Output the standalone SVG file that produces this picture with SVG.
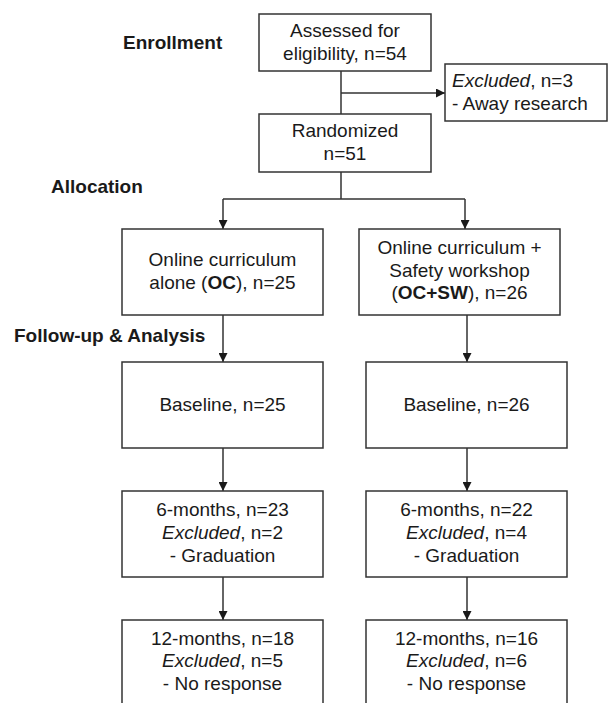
<svg xmlns="http://www.w3.org/2000/svg" width="608" height="703" viewBox="0 0 608 703">
<style>
.box{fill:#fff;stroke:#333;stroke-width:1.5}
.t{font-family:"Liberation Sans",Arial,sans-serif;font-size:19px;fill:#1a1a1a}
.c{text-anchor:middle}
.h{font-family:"Liberation Sans",Arial,sans-serif;font-size:19px;font-weight:bold;fill:#1a1a1a}
.ln{fill:none;stroke:#333;stroke-width:1.5}
</style>
<defs>
<marker id="ah" viewBox="0 0 10 10" refX="10" refY="5" markerWidth="9" markerHeight="9" markerUnits="userSpaceOnUse" orient="auto">
<path d="M0,0 L10,5 L0,10 z" fill="#1a1a1a"/>
</marker>
</defs>
<rect width="608" height="703" fill="#fff"/>
<g id="labels">
<text class="h" x="123" y="49">Enrollment</text>
<text class="h" x="51" y="193">Allocation</text>
<text class="h" x="14" y="342">Follow-up &amp; Analysis</text>
</g>
<g id="connectors">
<path class="ln" d="M341,71 V114"/>
<path class="ln" d="M341,93 H445" marker-end="url(#ah)"/>
<path class="ln" d="M341,172 V199 M223,199 H465"/>
<path class="ln" d="M223,199 V229" marker-end="url(#ah)"/>
<path class="ln" d="M465,199 V229" marker-end="url(#ah)"/>
<path class="ln" d="M223,315 V362" marker-end="url(#ah)"/>
<path class="ln" d="M467,315 V362" marker-end="url(#ah)"/>
<path class="ln" d="M223,448 V491" marker-end="url(#ah)"/>
<path class="ln" d="M467,448 V491" marker-end="url(#ah)"/>
<path class="ln" d="M223,577 V620" marker-end="url(#ah)"/>
<path class="ln" d="M467,577 V620" marker-end="url(#ah)"/>
</g>
<g id="assessed">
<rect class="box" x="259" y="14" width="172" height="57"/>
<text class="t c" x="345" y="37">Assessed for</text>
<text class="t c" x="345" y="60">eligibility, n=54</text>
</g>
<g id="excluded">
<rect class="box" x="445" y="64" width="162" height="57"/>
<text class="t" x="452" y="87"><tspan font-style="italic">Excluded</tspan>, n=3</text>
<text class="t" x="452" y="110">- Away research</text>
</g>
<g id="randomized">
<rect class="box" x="259" y="114" width="172" height="58"/>
<text class="t c" x="345" y="137">Randomized</text>
<text class="t c" x="345" y="160">n=51</text>
</g>
<g id="oc">
<rect class="box" x="122" y="229" width="201" height="86"/>
<text class="t c" x="222.5" y="266">Online curriculum</text>
<text class="t c" x="222.5" y="289">alone (<tspan font-weight="bold">OC</tspan>), n=25</text>
</g>
<g id="ocsw">
<rect class="box" x="359" y="229" width="201" height="86"/>
<text class="t c" x="459.5" y="254">Online curriculum +</text>
<text class="t c" x="459.5" y="277">Safety workshop</text>
<text class="t c" x="459.5" y="299">(<tspan font-weight="bold">OC+SW</tspan>), n=26</text>
</g>
<g id="baseline-oc">
<rect class="box" x="122" y="362" width="201" height="86"/>
<text class="t c" x="222.5" y="411">Baseline, n=25</text>
</g>
<g id="baseline-ocsw">
<rect class="box" x="366" y="362" width="201" height="86"/>
<text class="t c" x="466.5" y="411">Baseline, n=26</text>
</g>
<g id="m6-oc">
<rect class="box" x="122" y="491" width="201" height="86"/>
<text class="t c" x="222.5" y="516">6-months, n=23</text>
<text class="t c" x="222.5" y="539"><tspan font-style="italic">Excluded</tspan>, n=2</text>
<text class="t c" x="222.5" y="562">- Graduation</text>
</g>
<g id="m6-ocsw">
<rect class="box" x="366" y="491" width="201" height="86"/>
<text class="t c" x="466.5" y="516">6-months, n=22</text>
<text class="t c" x="466.5" y="539"><tspan font-style="italic">Excluded</tspan>, n=4</text>
<text class="t c" x="466.5" y="562">- Graduation</text>
</g>
<g id="m12-oc">
<rect class="box" x="122" y="620" width="201" height="95"/>
<text class="t c" x="222.5" y="645">12-months, n=18</text>
<text class="t c" x="222.5" y="667"><tspan font-style="italic">Excluded</tspan>, n=5</text>
<text class="t c" x="222.5" y="690">- No response</text>
</g>
<g id="m12-ocsw">
<rect class="box" x="366" y="620" width="201" height="95"/>
<text class="t c" x="466.5" y="645">12-months, n=16</text>
<text class="t c" x="466.5" y="667"><tspan font-style="italic">Excluded</tspan>, n=6</text>
<text class="t c" x="466.5" y="690">- No response</text>
</g>
</svg>
